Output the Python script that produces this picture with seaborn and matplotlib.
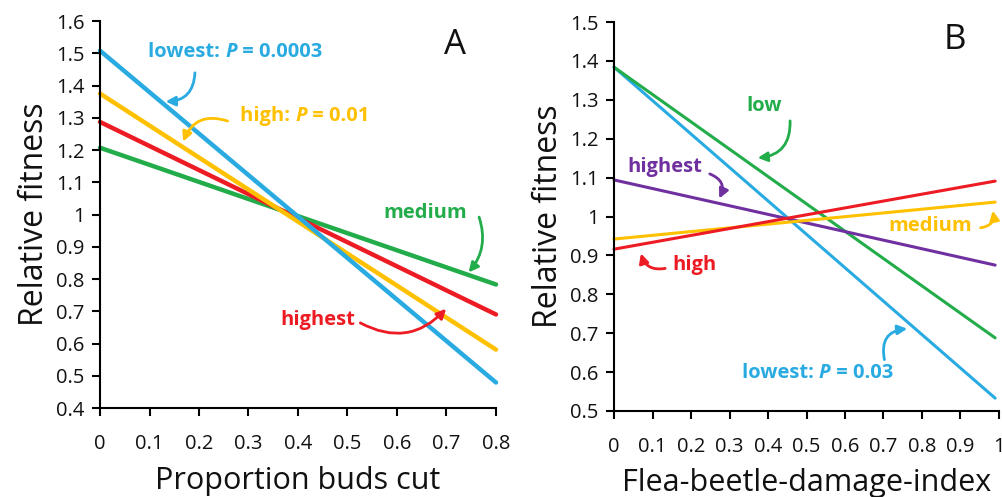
import numpy as np
import pandas as pd
import seaborn as sns
import matplotlib.pyplot as plt

# ---- Data ----
# Panel A: Proportion buds cut (0 -> 0.8)
a_x = [0.0, 0.8]
a_groups = ["lowest", "high", "highest", "medium"]
a_lowest = [1.508, 0.479]
a_high = [1.375, 0.581]
a_highest = [1.287, 0.690]
a_medium = [1.207, 0.783]

# Panel B: Flea-beetle-damage-index (0 -> 1)
b_x = [0.0, 0.99]
b_groups = ["low", "lowest", "highest", "medium", "high"]
b_low = [1.384, 0.688]
b_lowest = [1.384, 0.533]
b_highest = [1.094, 0.875]
b_medium = [0.942, 1.037]
b_high = [0.916, 1.091]

a_xticks = [0, 0.1, 0.2, 0.3, 0.4, 0.5, 0.6, 0.7, 0.8]
a_yticks = [0.4, 0.5, 0.6, 0.7, 0.8, 0.9, 1.0, 1.1, 1.2, 1.3, 1.4, 1.5, 1.6]
b_xticks = [0, 0.1, 0.2, 0.3, 0.4, 0.5, 0.6, 0.7, 0.8, 0.9, 1.0]
b_yticks = [0.5, 0.6, 0.7, 0.8, 0.9, 1.0, 1.1, 1.2, 1.3, 1.4, 1.5]

BLUE = "#29ABE2"
YELLOW = "#FFC000"
RED = "#ED1C24"
GREEN = "#22AC4A"
PURPLE = "#7030A0"

sns.set_theme(style="ticks")
plt.rcParams['font.family'] = ['Open Sans', 'DejaVu Sans']

def tick_fmt(v):
    s = f"{v:.1f}"
    if s.endswith(".0"):
        s = s[:-2]
    return s

dfa = pd.DataFrame({
    "x": a_x * 4,
    "y": a_lowest + a_high + a_highest + a_medium,
    "g": sum([[g] * 2 for g in a_groups], []),
})
dfb = pd.DataFrame({
    "x": b_x * 5,
    "y": b_low + b_lowest + b_highest + b_medium + b_high,
    "g": sum([[g] * 2 for g in b_groups], []),
})

fig = plt.figure(figsize=(10.03, 4.97), dpi=100)
axA = fig.add_axes([100 / 1003, 1 - 408 / 497, 396 / 1003, 387 / 497])
axB = fig.add_axes([614 / 1003, 1 - 411 / 497, 385 / 1003, 389 / 497])

sns.lineplot(data=dfa, x="x", y="y", hue="g", ax=axA, legend=False,
             palette={"lowest": BLUE, "high": YELLOW, "highest": RED, "medium": GREEN},
             hue_order=["medium", "highest", "high", "lowest"], linewidth=3.2)
sns.lineplot(data=dfb, x="x", y="y", hue="g", ax=axB, legend=False,
             palette={"low": GREEN, "lowest": BLUE, "highest": PURPLE, "medium": YELLOW, "high": RED},
             hue_order=["lowest", "low", "highest", "medium", "high"], linewidth=2.2)

for ax, xt, yt, xl in [(axA, a_xticks, a_yticks, "Proportion buds cut"),
                       (axB, b_xticks, b_yticks, "Flea-beetle-damage-index")]:
    ax.set_xlim(xt[0], xt[-1])
    ax.set_ylim(yt[0], yt[-1])
    ax.set_xticks(xt)
    ax.set_xticklabels([tick_fmt(v) for v in xt], fontsize=14.5)
    ax.set_yticks(yt)
    ax.set_yticklabels([tick_fmt(v) for v in yt], fontsize=14.5)
    ax.tick_params(direction="out", length=6, width=1.5, color="black", pad=5,
                   labelcolor="#111111")
    ax.tick_params(axis="x", pad=13)
    for s in ["top", "right"]:
        ax.spines[s].set_visible(False)
    for s in ["left", "bottom"]:
        ax.spines[s].set_linewidth(1.5)
        ax.spines[s].set_color("black")
    ax.set_xlabel(xl, fontsize=22, labelpad=8, color="#111111")
    ax.set_ylabel("Relative fitness", fontsize=23, labelpad=4, color="#111111")
    for l in ax.get_lines():
        l.set_clip_on(False)

FS = 14.5

def ann(ax, parts, xy, xytext_arrow, textpos, color, rad):
    ax.annotate("", xy=xy, xytext=xytext_arrow,
                arrowprops=dict(arrowstyle="-|>", color=color, lw=2,
                                mutation_scale=14,
                                connectionstyle=f"arc3,rad={rad}"),
                annotation_clip=False)
    prev = ax.text(textpos[0], textpos[1], parts[0], color=color, fontsize=FS,
                   fontweight="bold", ha="left", va="center")
    for i, p in enumerate(parts[1:]):
        style = "italic" if i % 2 == 0 else "normal"
        prev = ax.annotate(p, xy=(1, 0), xycoords=prev, ha="left", va="bottom",
                           color=color, fontsize=FS, fontweight="bold",
                           fontstyle=style)

# Panel A annotations
ann(axA, ["lowest: ", "P", " = 0.0003"], (0.127, 1.350), (0.192, 1.448), (0.097, 1.504), BLUE, -0.5)
ann(axA, ["high: ", "P", " = 0.01"], (0.166, 1.218), (0.263, 1.287), (0.283, 1.306), YELLOW, 0.5)
ann(axA, ["medium"], (0.741, 0.814), (0.764, 1.000), (0.572, 1.006), GREEN, -0.3)
ann(axA, ["highest"], (0.703, 0.714), (0.521, 0.668), (0.364, 0.672), RED, 0.4)
axA.text(0.718, 1.525, "A", fontsize=25, ha="center", va="center", color="#111111")

# Panel B annotations
ann(axB, ["low"], (0.366, 1.150), (0.457, 1.253), (0.345, 1.284), GREEN, -0.5)
ann(axB, ["highest"], (0.270, 1.040), (0.242, 1.112), (0.036, 1.127), PURPLE, -0.6)
ann(axB, ["medium"], (0.982, 1.022), (0.945, 0.970), (0.712, 0.976), YELLOW, 0.6)
ann(axB, ["high"], (0.068, 0.912), (0.140, 0.868), (0.151, 0.875), RED, -0.5)
ann(axB, ["lowest: ", "P", " = 0.03"], (0.769, 0.712), (0.704, 0.625), (0.332, 0.598), BLUE, -0.6)
axB.text(0.886, 1.454, "B", fontsize=25, ha="center", va="center", color="#111111")

fig.savefig("out.png", dpi=100)
